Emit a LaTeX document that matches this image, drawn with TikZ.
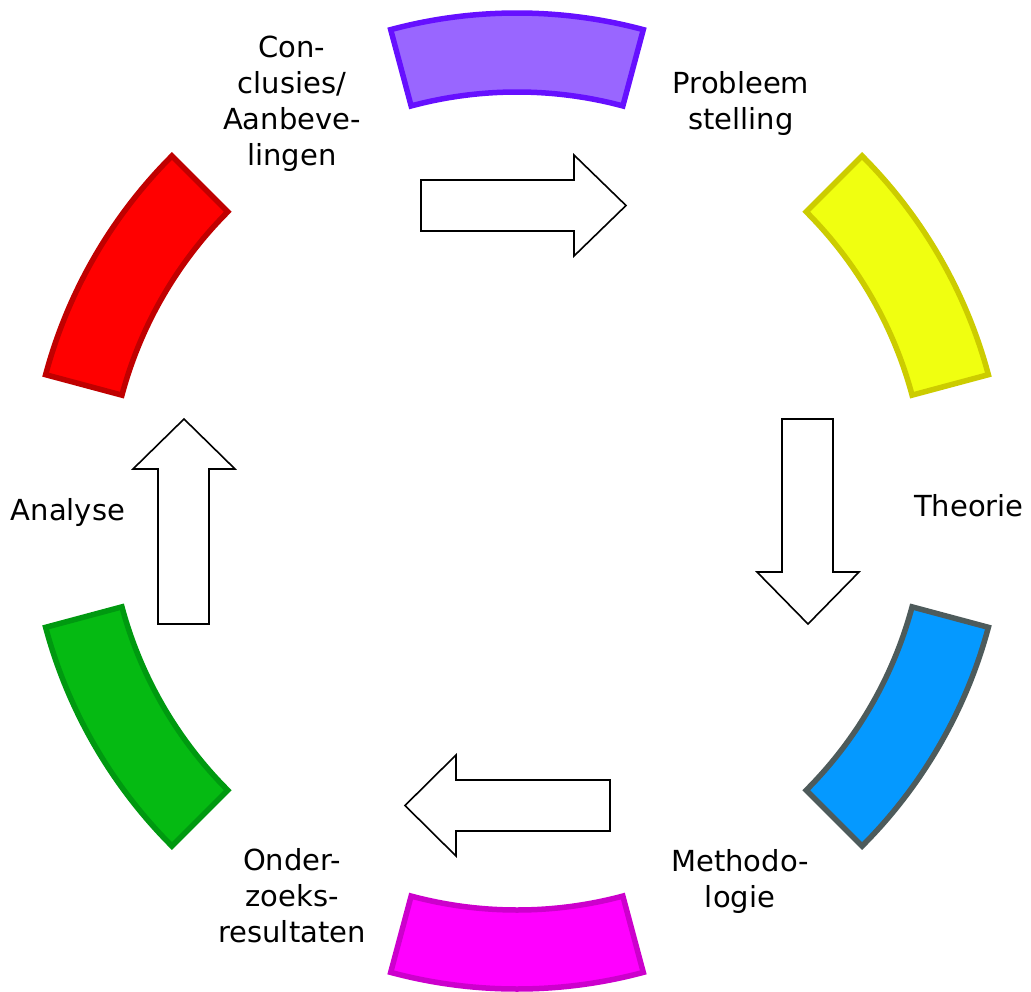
\documentclass[tikz,border=0pt]{standalone}
\usepackage{fontspec}
\setmainfont{DejaVu Sans}
\usetikzlibrary{calc}
\definecolor{purpleF}{HTML}{9966FF}
\definecolor{purpleD}{HTML}{6610FF}
\definecolor{yellowF}{HTML}{F0FF10}
\definecolor{yellowD}{HTML}{CCCC00}
\definecolor{blueF}{HTML}{0599FF}
\definecolor{blueD}{HTML}{4E5B5B}
\definecolor{magentaF}{HTML}{FF00FF}
\definecolor{magentaD}{HTML}{CC00CC}
\definecolor{greenF}{HTML}{05BA12}
\definecolor{greenD}{HTML}{009910}
\definecolor{redF}{HTML}{FF0000}
\definecolor{redD}{HTML}{C00000}
\begin{document}
\begin{tikzpicture}[x=1pt,y=1pt,
  seg/.style={line width=5.5pt, line join=miter},
  blockarrow/.style={draw=black, line width=1.6pt, fill=white, line join=miter},
  lbl/.style={font=\fontsize{29}{36}\selectfont, align=center, inner sep=0pt}]
\useasboundingbox (0,0) rectangle (1031,-991);
\coordinate (C) at (517,-501);
% ring segments
\foreach \a/\fc/\dc in {90/purpleF/purpleD, 30/yellowF/yellowD, -30/blueF/blueD, -90/magentaF/magentaD, 210/greenF/greenD, 150/redF/redD}{
  \draw[seg, fill=\fc, draw=\dc]
    ($(C)+(\a-15:488)$) arc[start angle=\a-15, end angle=\a+15, radius=488]
    -- ($(C)+(\a+15:409)$) arc[start angle=\a+15, end angle=\a-15, radius=409]
    -- cycle;
}
% block arrows
\draw[blockarrow] (421,-180) -- (574,-180) -- (574,-155) -- (626,-205.5) -- (574,-256) -- (574,-231) -- (421,-231) -- cycle;
\draw[blockarrow] (782,-419) -- (833,-419) -- (833,-572) -- (859,-572) -- (808,-624) -- (757,-572) -- (782,-572) -- cycle;
\draw[blockarrow] (610,-780) -- (456,-780) -- (456,-755) -- (405,-805.5) -- (456,-856) -- (456,-831) -- (610,-831) -- cycle;
\draw[blockarrow] (158,-624) -- (158,-469) -- (133,-469) -- (184,-419) -- (235,-469) -- (209,-469) -- (209,-624) -- cycle;
% labels
\node[lbl] (concl) at (292,-104) {Con-\\clusies/\\Aanbeve-\\lingen};
\node[lbl] (prob) at (741,-103.5) {Probleem\\stelling};
\node[lbl] (theo) at (969,-506) {Theorie};
\node[lbl] (meth) at (740,-881) {Methodo-\\logie};
\node[lbl] (onder) at (292,-896) {Onder-\\zoeks-\\resultaten};
\node[lbl] (anal) at (68,-512) {Analyse};
\end{tikzpicture}
\end{document}
